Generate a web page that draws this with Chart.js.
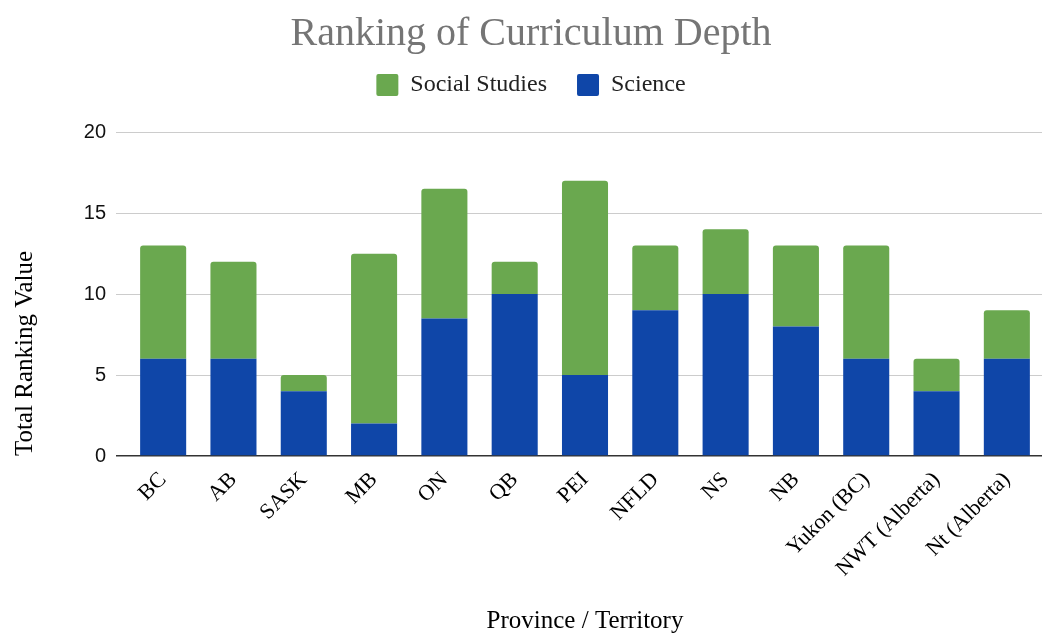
<!DOCTYPE html>
<html>
<head>
<meta charset="utf-8">
<script src="https://cdn.jsdelivr.net/npm/chart.js@4"></script>
<style>
  html, body { margin: 0; padding: 0; background: #fff; }
  #wrap { width: 1042px; height: 633px; }
</style>
</head>
<body>
<div id="wrap"><canvas id="curriculum-chart"></canvas></div>
<script>
// provinces / territories
const provinces = ['BC', 'AB', 'SASK', 'MB', 'ON', 'QB', 'PEI', 'NFLD', 'NS', 'NB', 'Yukon (BC)', 'NWT (Alberta)', 'Nt (Alberta)'];
// ranking values
const science = [6, 6, 4, 2, 8.5, 10, 5, 9, 10, 8, 6, 4, 6];
const socialStudies = [7, 6, 1, 10.5, 8, 2, 12, 4, 4, 5, 7, 2, 3];
const yTicks = [0, 5, 10, 15, 20];

const serif = "'Liberation Serif', 'Times New Roman', serif";
const sans = "'Liberation Sans', Arial, sans-serif";

const ctx = document.getElementById('curriculum-chart').getContext('2d');
new Chart(ctx, {
    type: 'bar',
    data: {
        labels: provinces,
        datasets: [{
            label: 'Science',
            data: science,
            backgroundColor: '#0f46a8',
            borderRadius: 0,
            barPercentage: 0.655,
            categoryPercentage: 1
        }, {
            label: 'Social Studies',
            data: socialStudies,
            backgroundColor: '#6aa84f',
            borderRadius: { topLeft: 3, topRight: 3 },
            borderSkipped: 'start',
            barPercentage: 0.655,
            categoryPercentage: 1
        }]
    },
    options: {
        responsive: true,
        maintainAspectRatio: false,
        animation: false,
        layout: { padding: { top: 0, right: 0, left: 20, bottom: 0 } },
        plugins: {
            title: {
                display: true,
                text: 'Ranking of Curriculum Depth',
                color: '#757575',
                font: { family: serif, size: 40, weight: 'normal' },
                padding: { top: 10, bottom: -15 }
            },
            // empty spacer between legend and plot
            subtitle: {
                display: true,
                text: '',
                weight: 500,
                font: { size: 1 },
                padding: { top: 24, bottom: 0 }
            },
            legend: {
                reverse: true,
                labels: {
                    boxWidth: 22,
                    boxHeight: 22,
                    useBorderRadius: true,
                    borderRadius: 2,
                    padding: 30,
                    color: '#222',
                    font: { family: serif, size: 24 }
                }
            },
            tooltip: { enabled: false }
        },
        scales: {
            x: {
                stacked: true,
                grid: { display: false },
                border: { display: false },
                ticks: {
                    color: '#000',
                    maxRotation: 45,
                    minRotation: 45,
                    autoSkip: false,
                    font: { family: serif, size: 22 }
                },
                title: {
                    display: true,
                    text: 'Province / Territory',
                    color: '#000',
                    font: { family: serif, size: 25 },
                    padding: { top: 0, bottom: -3 }
                },
                afterFit: scale => { scale.height = 177; }
            },
            y: {
                stacked: true,
                min: 0,
                max: 20,
                afterBuildTicks: scale => { scale.ticks = yTicks.map(v => ({ value: v })); },
                grid: {
                    color: c => c.tick && c.tick.value === 0 ? '#333' : '#cccccc',
                    lineWidth: c => c.tick && c.tick.value === 0 ? 1.5 : 1,
                    tickLength: 12
                },
                border: { display: false },
                ticks: {
                    color: '#111',
                    padding: 10,
                    font: { family: sans, size: 20 }
                },
                title: {
                    display: true,
                    text: 'Total Ranking Value',
                    align: 'start',
                    color: '#000',
                    font: { family: serif, size: 25 },
                    padding: { top: -10, bottom: 0 }
                },
                afterFit: scale => { scale.width = 108; }
            }
        }
    }
});
</script>
</body>
</html>
